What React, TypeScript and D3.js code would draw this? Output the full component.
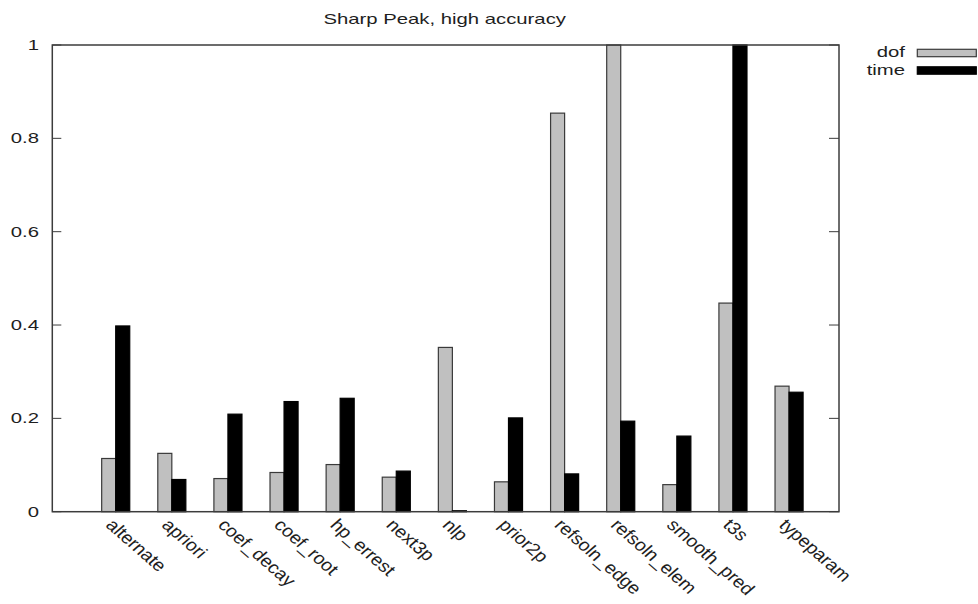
import React from 'react';
import * as d3 from 'd3';

// Per-strategy normalised cost: degrees of freedom and run time
const categories = [
  'alternate', 'apriori', 'coef_decay', 'coef_root', 'hp_errest', 'next3p', 'nlp',
  'prior2p', 'refsoln_edge', 'refsoln_elem', 'smooth_pred', 't3s', 'typeparam',
];
const dofValues = [0.114, 0.125, 0.071, 0.084, 0.101, 0.074, 0.352, 0.064, 0.854, 1.0, 0.058, 0.447, 0.269];
const timeValues = [0.398, 0.069, 0.209, 0.236, 0.243, 0.087, 0.002, 0.201, 0.081, 0.194, 0.162, 1.0, 0.256];
const yTicks = [0, 0.2, 0.4, 0.6, 0.8, 1];
const seriesNames = ['dof', 'time'];
const title = 'Sharp Peak, high accuracy';

const W = 978;
const H = 604;
const plot = { left: 52.3, right: 839, top: 45, bottom: 511.7 };
const FONT = "'Liberation Sans', Arial, Helvetica, sans-serif";
const FS = 14.5;
const SX = 1.4; // horizontal widening of glyphs
const BAR = 0.25; // bar width in category units

const fills = ['#c0c0c0', '#000000'];
const strokes = ['#3a3a3a', '#000000'];
const axisColor = '#3c3c3c';
const textColor = '#1e1e1e';

export default function App() {
  const x = d3.scaleLinear().domain([-1.13, 12.89]).range([plot.left, plot.right]);
  const y = d3.scaleLinear().domain([0, 1]).range([plot.bottom, plot.top]);
  const series = [dofValues, timeValues];

  return (
    <svg
      width={W}
      height={H}
      style={{ position: 'absolute', left: 0, top: 0, background: '#fff' }}
      fontFamily={FONT}
    >
      <rect x={0} y={0} width={W} height={H} fill="#fff" />

      {/* title */}
      <text
        transform={`translate(${444.7},${24}) scale(${SX},1)`}
        textAnchor="middle"
        fontSize={FS}
        fill={textColor}
      >
        {title}
      </text>

      {/* bars */}
      {categories.map((c, i) =>
        series.map((vals, s) => {
          const x0 = x(i - BAR + s * BAR);
          const x1 = x(i + s * BAR);
          const y0 = y(vals[i]);
          return (
            <rect
              key={`${c}-${s}`}
              x={x0}
              y={y0}
              width={x1 - x0}
              height={y(0) - y0}
              fill={fills[s]}
              stroke={strokes[s]}
              strokeWidth={1.2}
            />
          );
        })
      )}

      {/* frame */}
      <rect
        x={plot.left}
        y={plot.top}
        width={plot.right - plot.left}
        height={plot.bottom - plot.top}
        fill="none"
        stroke={axisColor}
        strokeWidth={1.5}
      />

      {/* y ticks (left and mirrored right) */}
      {yTicks.map((t) => (
        <g key={t}>
          <line x1={plot.left} x2={plot.left + 9} y1={y(t)} y2={y(t)} stroke={axisColor} strokeWidth={1} />
          <line x1={plot.right} x2={plot.right - 10} y1={y(t)} y2={y(t)} stroke={axisColor} strokeWidth={1} />
          <text
            transform={`translate(${39},${y(t) + 5}) scale(${SX},1)`}
            textAnchor="end"
            fontSize={FS}
            fill={textColor}
          >
            {d3.format('~g')(t)}
          </text>
        </g>
      ))}

      {/* category labels, rotated */}
      {categories.map((c, i) => (
        <text
          key={c}
          transform={`translate(${x(i) - 11},${526}) scale(1.15,1) rotate(45)`}
          fontSize={17}
          fill={textColor}
        >
          {c}
        </text>
      ))}

      {/* legend */}
      {seriesNames.map((n, s) => (
        <g key={n}>
          <text
            transform={`translate(${905},${57 + s * 17.5}) scale(${SX},1)`}
            textAnchor="end"
            fontSize={FS}
            fill={textColor}
          >
            {n}
          </text>
          <rect
            x={917.3}
            y={49.3 + s * 17.5}
            width={59}
            height={7.4}
            fill={fills[s]}
            stroke={strokes[s]}
            strokeWidth={1.2}
          />
        </g>
      ))}
    </svg>
  );
}
